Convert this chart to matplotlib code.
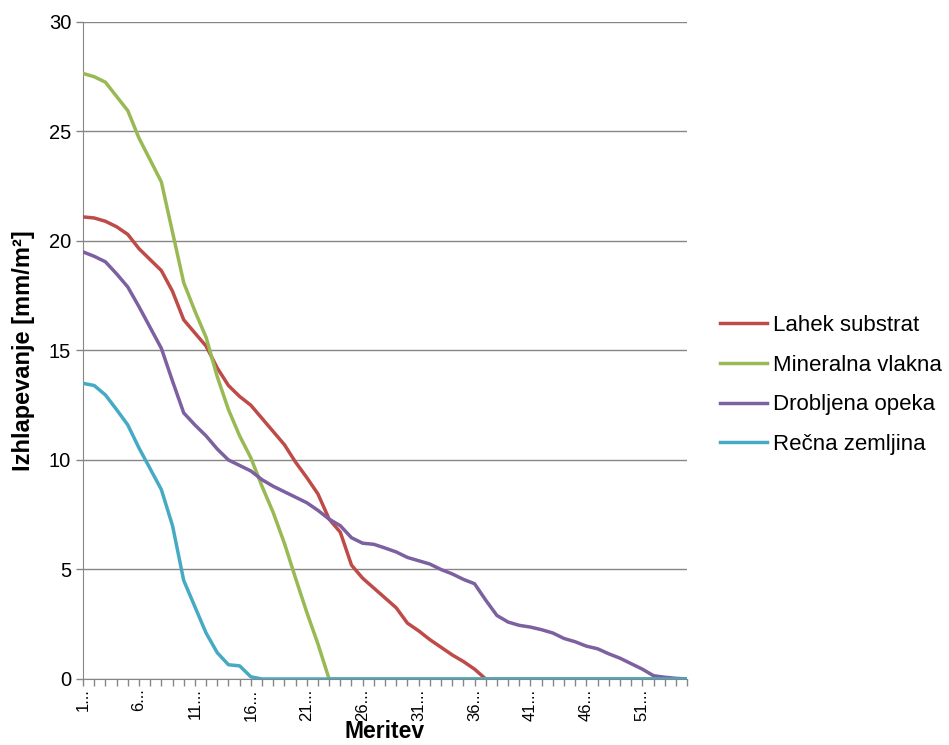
import numpy as np
import matplotlib
matplotlib.use('Agg')
import matplotlib.pyplot as plt

plt.rcParams['font.family'] = ['Liberation Sans', 'DejaVu Sans']

meritev = list(range(1, 56))

lahek = [21.1, 21.05, 20.9, 20.65, 20.3, 19.65, 19.15, 18.65, 17.7, 16.4,
         15.8, 15.2, 14.2, 13.4, 12.9, 12.5, 11.9, 11.3, 10.7, 9.9,
         9.2, 8.45, 7.3, 6.7, 5.2, 4.6, 4.15, 3.7, 3.25, 2.55,
         2.2, 1.8, 1.45, 1.1, 0.8, 0.45, 0] + [0] * 18
mineralna = [27.65, 27.5, 27.25, 26.6, 25.95, 24.7, 23.7, 22.7, 20.4, 18.1,
             16.8, 15.6, 13.8, 12.3, 11.1, 10.1, 8.8, 7.6, 6.2, 4.6,
             3.05, 1.6, 0] + [0] * 32
opeka = [19.5, 19.3, 19.05, 18.5, 17.9, 17.0, 16.05, 15.1, 13.6, 12.15,
         11.6, 11.1, 10.5, 10.0, 9.75, 9.5, 9.1, 8.8, 8.55, 8.3,
         8.05, 7.7, 7.3, 7.0, 6.45, 6.2, 6.15, 5.98, 5.8, 5.55,
         5.4, 5.25, 5.0, 4.8, 4.55, 4.35, 3.6, 2.9, 2.6, 2.45,
         2.37, 2.25, 2.1, 1.85, 1.7, 1.5, 1.38, 1.15, 0.95, 0.7,
         0.45, 0.15, 0.08, 0.03, 0]
zemljina = [13.5, 13.4, 12.97, 12.3, 11.6, 10.55, 9.6, 8.65, 7.0, 4.5,
            3.3, 2.1, 1.2, 0.65, 0.6, 0.1, 0] + [0] * 38

serije = ['Lahek substrat', 'Mineralna vlakna', 'Drobljena opeka', 'Rečna zemljina']
barve = ['#BE4B48', '#98B954', '#7D60A0', '#46AAC5']

fig = plt.figure(figsize=(9.49, 7.45), dpi=100)
ax = fig.add_axes([0.0875, 0.0886, 0.6365, 0.8819])

x = np.arange(len(meritev))
for vals, name, c in zip([lahek, mineralna, opeka, zemljina], serije, barve):
    ax.plot(x, vals, color=c, lw=2.5, label=name, solid_joinstyle='round', zorder=3)

ax.set_xlim(0, len(meritev) - 1)
ax.set_ylim(0, 30)
ax.set_yticks(range(0, 31, 5))
ax.yaxis.grid(True, color='#868686', lw=1)
ax.set_axisbelow(True)

ax.set_xticks(x, minor=True)
ax.set_xticks(x[::5])
ax.set_xticklabels([f'{m}...' for m in meritev[::5]], rotation=90)

for s in ['top', 'right']:
    ax.spines[s].set_visible(False)
for s in ['left', 'bottom']:
    ax.spines[s].set_color('#868686')
ax.tick_params(which='both', direction='out', color='#868686', length=5, width=1)
ax.tick_params(axis='y', labelsize=14.5)
ax.tick_params(axis='x', labelsize=12, pad=2)

ax.set_xlabel('Meritev', fontsize=16.5, fontweight='bold', va='bottom')
ax.xaxis.set_label_coords(0.5, -0.0975)
ax.set_ylabel('Izhlapevanje [mm/m²]', fontsize=17, fontweight='bold', labelpad=10)

fig.legend(loc='center left', bbox_to_anchor=(0.738, 0.483), frameon=False,
           fontsize=16, handlelength=2.1, handletextpad=0.25, labelspacing=0.84)

fig.savefig('out.png', dpi=100)
